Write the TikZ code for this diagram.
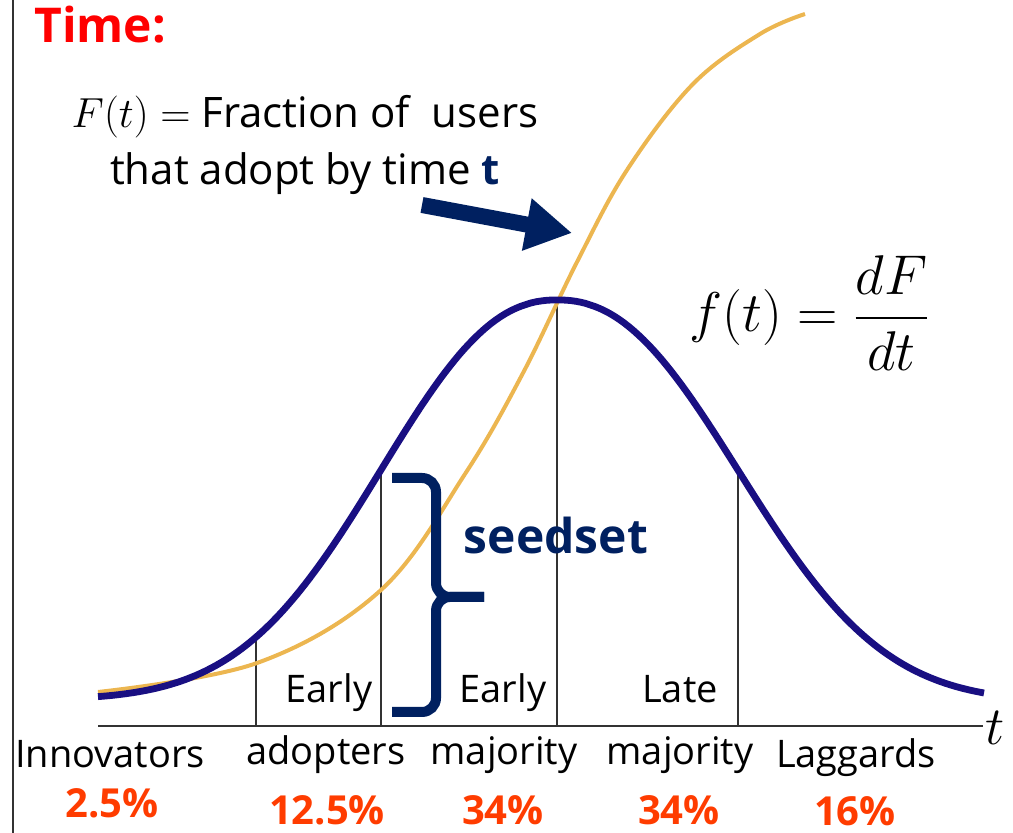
\RequirePackage{fix-cm}
\documentclass[tikz,border=0pt]{standalone}
\usepackage{amsmath}
\usepackage{fontspec}
\setmainfont{Open Sans}
\usepackage{tikz}
\usetikzlibrary{arrows.meta}
\definecolor{titlered}{RGB}{255,0,0}
\definecolor{pctred}{RGB}{255,60,0}
\definecolor{seednavy}{RGB}{0,32,96}
\definecolor{bellblue}{RGB}{25,15,130}
\definecolor{cdfgold}{RGB}{236,182,80}
\definecolor{axisgray}{RGB}{50,50,50}
\newcommand*\labelsz{\fontsize{19}{23}\selectfont}
\newcommand*\notesz {\fontsize{21}{25}\selectfont}
\tikzset{
    phaselabel/.style = {anchor=base, inner sep=0pt, font=\labelsz},
    grouplabel/.style = {phaselabel},
    pctlabel/.style   = {anchor=base, inner sep=0pt, text=pctred,
                        font=\fontsize{20}{24}\selectfont\bfseries},
    notetext/.style   = {anchor=base, inner sep=0pt, font=\notesz},
    titletext/.style  = {anchor=base west, inner sep=0pt, text=titlered,
                        font=\fontsize{24}{28}\selectfont\bfseries},
    seedtext/.style   = {anchor=base, inner sep=0pt, text=seednavy,
                        font=\fontsize{24}{28}\selectfont\bfseries},
    axisline/.style   = {draw=axisgray, line width=1.4pt},
    cutline/.style    = {draw=axisgray, line width=0.7pt},
    bellcurve/.style  = {draw=bellblue, line width=3.4pt, line join=round},
    cdfcurve/.style   = {draw=cdfgold, line width=2pt},
    seedbrace/.style  = {draw=seednavy, line width=5pt, rounded corners=7pt},
    bigarrow/.style   = {draw=seednavy, line width=8pt,
                        -{Triangle[length=23pt,width=25pt]}},
  }
\begin{document}
\begin{tikzpicture}[x=0.5pt, y=-0.5pt]
    \useasboundingbox (0,0) rectangle (1013,833);

    % left edge of the frame
    \draw[axisgray, line width=1pt] (13,0) -- (13,833);

    % time axis and the category cuts
    \coordinate (axl) at (98,726);
    \coordinate (axr) at (983,726);
    \foreach \xc/\yc in {256/637, 381/470, 557/300, 738/470}
        \draw[cutline] (\xc,726) -- (\xc,\yc);
    \draw[axisline] (axl) -- (axr);
    \node[anchor=base west, inner sep=0pt, font=\fontsize{27}{30}\selectfont]
        (tlabel) at (985,745) {$t$};

    % F(t): fraction adopted
    \draw[cdfcurve] plot[smooth, tension=0.6] coordinates {
        (98,692) (257,663) (381,590) (465,474) (523,373) (577,262)
        (627,170) (693,84) (760,34) (805,14)};

    % f(t): the bell, left and right half
    \draw[bellcurve] plot[domain=98:557, samples=90]
        (\x, {700-400*exp(-((abs(\x-557)+0.01)/229)^2.25)})
        -- plot[domain=557:984, samples=90]
        (\x, {702-402*exp(-((abs(\x-557)+0.01)/236)^2.25)});

    % title and note
    \node[titletext] (title) at (34,43) {Time:};
    \node[notetext] (note1) at (305,128) {$F(t) =$ Fraction of~ users};
    \node[notetext] (note2) at (305,185)
        {that adopt by time \textcolor{seednavy}{\textbf{t}}};
    \coordinate (arrtail) at (422,205);
    \coordinate (arrtip) at (572,233);
    \draw[bigarrow] (arrtail) -- (arrtip);

    \node[anchor=base west, inner sep=0pt, font=\fontsize{28}{33}\selectfont]
        (fdef) at (689,332) {$\displaystyle f(t) = \frac{dF}{dt}$};

    % seedset brace
    \coordinate (brtop) at (392,478);
    \coordinate (brbot) at (392,712);
    \coordinate (brtip) at (484,597);
    \draw[seedbrace] (brtop) -| (436,597) -- (brtip);
    \draw[seedbrace] (brbot) -| (436,597) -- (brtip);
    \node[seedtext] (seed) at (556,554) {seedset};

    % labels above the axis
    \foreach \txt/\xc [count=\i] in {Early/329, Early/503, Late/680}
        \node[phaselabel] (phase\i) at (\xc,703) {\txt};

    % labels below the axis
    \foreach \txt/\xc/\yc [count=\i] in {Innovators/110/768, adopters/326/765,
            majority/504/765, majority/680/765, Laggards/856/768}
        \node[grouplabel] (group\i) at (\xc,\yc) {\txt};

    % shares
    \foreach \txt/\xc/\yc [count=\i] in {2.5/112/818, 12.5/327/825,
            34/503/825, 34/679/825, 16/855/826}
        \node[pctlabel] (pct\i) at (\xc,\yc) {\txt\%};
\end{tikzpicture}
\end{document}
